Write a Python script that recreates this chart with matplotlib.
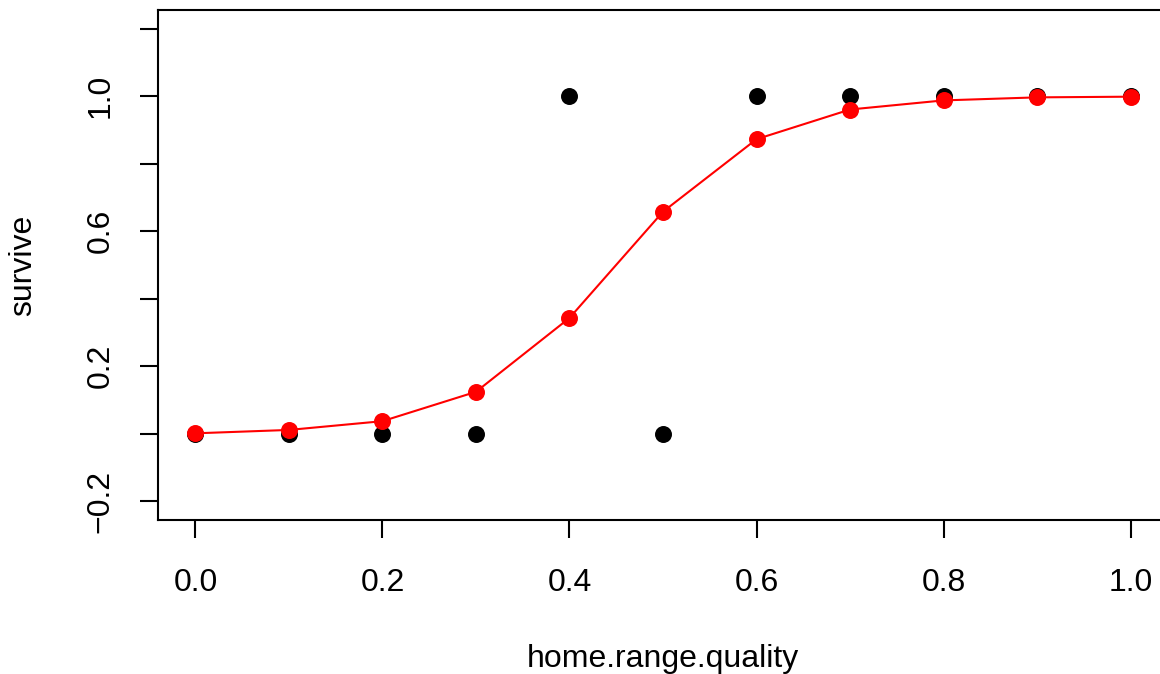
import numpy as np
import matplotlib
matplotlib.use('Agg')
import matplotlib.pyplot as plt

# observed survival vs home range quality
home_range_quality = [0.0, 0.1, 0.2, 0.3, 0.4, 0.5, 0.6, 0.7, 0.8, 0.9, 1.0]
survive = [0, 0, 0, 0, 1, 0, 1, 1, 1, 1, 1]

# fitted probabilities (logistic fit)
fitted = [0.001, 0.011, 0.037, 0.124, 0.343, 0.658, 0.873, 0.961, 0.988, 0.997, 0.999]

xticks = [0.0, 0.2, 0.4, 0.6, 0.8, 1.0]
yticks = [-0.2, 0.0, 0.2, 0.4, 0.6, 0.8, 1.0, 1.2]
ylabels = ['\u22120.2', '', '0.2', '', '0.6', '', '1.0', '']

plt.rcParams['font.family'] = ['Liberation Sans', 'DejaVu Sans']

W, H = 1160, 674
fig = plt.figure(figsize=(W/100, H/100), dpi=100)
ax = fig.add_axes([158/W, (H-520)/H, (1168-158)/W, (520-10)/H])

ax.plot(home_range_quality, survive, 'o', color='black', ms=11.2, zorder=2)
ax.plot(home_range_quality, fitted, '-', color='red', lw=1.5, zorder=3)
ax.plot(home_range_quality, fitted, 'o', color='red', ms=11.2, zorder=4)

ax.set_xlim(-0.04, 1.04)
ax.set_ylim(-0.256, 1.256)

ax.set_xticks(xticks)
ax.set_xticklabels(['%.1f' % v for v in xticks])
ax.set_yticks(yticks)
ax.set_yticklabels(ylabels, rotation=90, va='center')

for s in ax.spines.values():
    s.set_linewidth(1.5)
ax.tick_params(axis='both', length=13, width=1.5, labelsize=23)
ax.tick_params(axis='x', pad=21.5)
ax.tick_params(axis='y', pad=17.5)

ax.set_xlabel('home.range.quality', fontsize=23, labelpad=33)
ax.set_ylabel('survive', fontsize=23, labelpad=34)

fig.savefig('out.png', dpi=100)
